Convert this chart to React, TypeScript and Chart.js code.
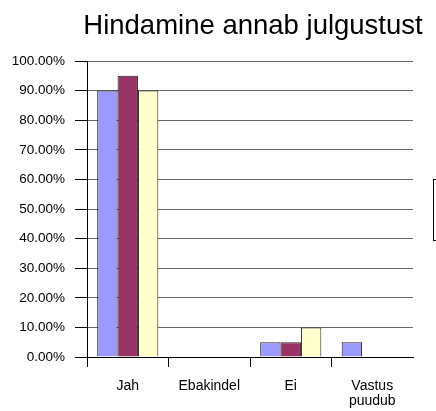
import React, { useEffect, useRef } from "react";
import { Chart, registerables } from "chart.js";

Chart.register(...registerables);

const categories: (string | string[])[] = ["Jah", "Ebakindel", "Ei", ["Vastus", "puudub"]];
const seriesA = [0.9, 0, 0.05, 0.05];
const seriesB = [0.95, 0, 0.05, 0];
const seriesC = [0.9, 0, 0.1, 0];
const titleText = "Hindamine annab julgustust";

const FONT = "'Liberation Sans', Arial, Helvetica, sans-serif";

const titlePlugin = {
  id: "customTitle",
  afterDraw(chart: any) {
    const ctx = chart.ctx;
    ctx.save();
    ctx.font = `normal 27.5px ${FONT}`;
    ctx.fillStyle = "#000";
    ctx.textAlign = "center";
    ctx.textBaseline = "alphabetic";
    const area = chart.chartArea;
    ctx.fillText(titleText, (area.left + area.right) / 2 + 3, 34);
    ctx.restore();
  },
};

export default function App() {
  const ref = useRef<HTMLCanvasElement | null>(null);
  useEffect(() => {
    if (!ref.current) return;
    const chart = new Chart(ref.current, {
      type: "bar",
      data: {
        labels: categories,
        datasets: [
          { data: seriesA, backgroundColor: "#9999FF", borderColor: "#222", borderWidth: 1 },
          { data: seriesB, backgroundColor: "#993366", borderColor: "#222", borderWidth: 1 },
          { data: seriesC, backgroundColor: "#FFFFCC", borderColor: "#222", borderWidth: 1 },
        ],
      },
      plugins: [titlePlugin],
      options: {
        responsive: true,
        maintainAspectRatio: false,
        animation: false,
        layout: { padding: { left: 0, right: 23, top: 61, bottom: 0 } },
        datasets: { bar: { categoryPercentage: 0.75, barPercentage: 1 } },
        plugins: {
          legend: { display: false },
          tooltip: { enabled: false },
          title: { display: false },
        },
        scales: {
          x: {
            offset: true,
            grid: {
              offset: true,
              drawOnChartArea: false,
              drawTicks: true,
              tickLength: 10,
              tickColor: (ctx: any) => (ctx.type === "tick" ? "#000" : "rgba(0,0,0,0)"),
            },
            border: { display: true, color: "#000", width: 1 },
            ticks: {
              color: "#000",
              padding: 12,
              maxRotation: 0,
              autoSkip: false,
              font: { family: FONT, size: 14, lineHeight: 1.05 },
            },
            afterFit: (scale: any) => {
              scale.height = 54;
            },
          },
          y: {
            min: 0,
            max: 1,
            grid: {
              color: "#6a6a6a",
              tickColor: "#000",
              tickLength: 12,
              drawTicks: true,
            },
            border: { display: true, color: "#000", width: 1 },
            ticks: {
              stepSize: 0.1,
              color: "#000",
              padding: 10,
              font: { family: FONT, size: 13.5 },
              callback: (v: any) => (Number(v) * 100).toFixed(2) + "%",
            },
            afterFit: (scale: any) => {
              scale.width = 87;
            },
          },
        },
      },
    });
    return () => chart.destroy();
  }, []);

  return (
    <div style={{ position: "absolute", left: 0, top: 0, width: 436, height: 411, background: "#fff", overflow: "hidden" }}>
      <canvas ref={ref} />
      <div
        style={{
          position: "absolute",
          left: 433,
          top: 179,
          width: 30,
          height: 60,
          border: "1px solid #000",
          background: "#fff",
        }}
      />
    </div>
  );
}
